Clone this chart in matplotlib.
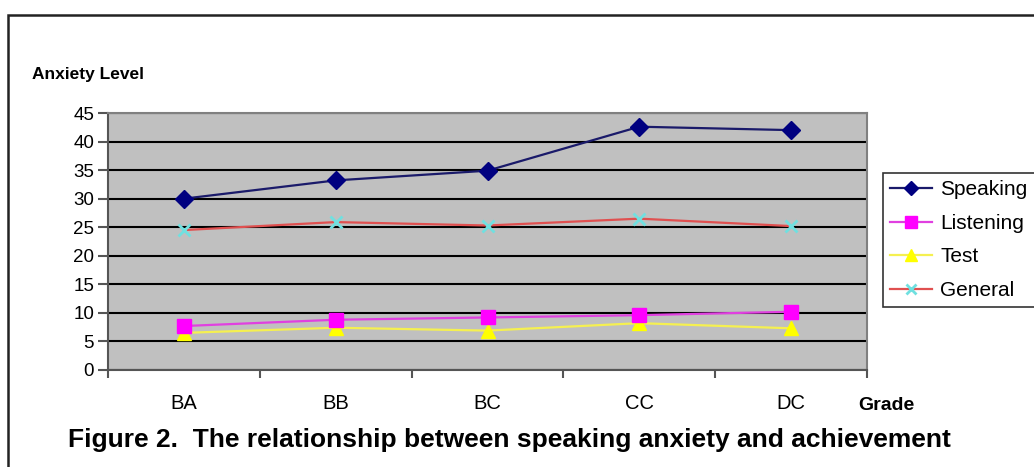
import matplotlib
matplotlib.use("Agg")
import matplotlib.pyplot as plt
from matplotlib.patches import Rectangle

grades = ["BA", "BB", "BC", "CC", "DC"]
speaking = [30.0, 33.2, 34.9, 42.6, 42.0]
listening = [7.7, 8.8, 9.2, 9.6, 10.2]
test = [6.5, 7.4, 6.9, 8.2, 7.3]
general = [24.5, 25.9, 25.3, 26.5, 25.2]
yticks = [0, 5, 10, 15, 20, 25, 30, 35, 40, 45]

plt.rcParams['font.family'] = ['Liberation Sans', 'DejaVu Sans']

W, H = 1034, 467
fig = plt.figure(figsize=(W/100, H/100), dpi=100)
fig.patch.set_facecolor('white')

# outer frame
fig.add_artist(Rectangle((8/W, -0.1), 1.2, 1 - 15/H + 0.1, transform=fig.transFigure,
                         fill=False, edgecolor='#222222', linewidth=1.8))

ax = fig.add_axes([108/W, 1 - 370/H, (867-108)/W, (370-113)/H])
ax.set_facecolor('#C0C0C0')
x = list(range(len(grades)))

ax.plot(x, general, color='#E05050', lw=1.6, marker='x', markersize=9,
        markeredgecolor='#70E0E0', markeredgewidth=2, label='General', zorder=3)
ax.plot(x, test, color='#F5F050', lw=1.6, marker='^', markersize=10,
        markerfacecolor='#FFFF00', markeredgecolor='#FFFF00', label='Test', zorder=4)
ax.plot(x, listening, color='#E040E0', lw=1.6, marker='s', markersize=10,
        markerfacecolor='#FF00FF', markeredgecolor='#FF00FF', label='Listening', zorder=5)
ax.plot(x, speaking, color='#1A1A6A', lw=1.6, marker='D', markersize=9,
        markerfacecolor='#000080', markeredgecolor='#000080', label='Speaking', zorder=6)

ax.set_xlim(-0.5, len(grades) - 0.5)
ax.set_ylim(0, 45)
ax.set_yticks(yticks)
ax.yaxis.grid(True, color='black', linewidth=1.5)
ax.set_axisbelow(True)
ax.set_xticks([i - 0.5 for i in range(len(grades) + 1)])
ax.set_xticklabels([])
ax.set_xticks(x, minor=True)
ax.set_xticklabels(grades, minor=True, fontsize=14.5)
ax.tick_params(axis='x', which='minor', length=0, pad=17)
ax.tick_params(axis='x', which='major', length=6, width=1.5, color='#555555', direction='out')
ax.tick_params(axis='y', length=7, width=1.5, color='#555555', labelsize=13.5, pad=3)
for s in ax.spines.values():
    s.set_color('#808080')
    s.set_linewidth(1.5)
ax.spines['left'].set_color('#555555')
ax.spines['bottom'].set_color('#555555')

fig.text(32/W, 1 - 75/H, 'Anxiety Level', fontsize=12.5, fontweight='bold', va='center', ha='left')
fig.text(858/W, 1 - 405/H, 'Grade', fontsize=14, fontweight='bold', va='center', ha='left')
fig.text(68/W, 1 - 440/H, 'Figure 2.  The relationship between speaking anxiety and achievement',
         fontsize=19, fontweight='bold', va='center', ha='left')

handles, labels = ax.get_legend_handles_labels()
order = [3, 2, 1, 0]
leg = fig.legend([handles[i] for i in order], [labels[i] for i in order],
                 loc='upper left', bbox_to_anchor=(883/W, 1 - 173/H),
                 bbox_transform=fig.transFigure, fontsize=15, frameon=True,
                 fancybox=False, edgecolor='black', handlelength=2.0,
                 handletextpad=0.4, borderpad=0.35, labelspacing=0.7,
                 borderaxespad=0, markerscale=0.8)
leg.get_frame().set_linewidth(1.2)

fig.savefig('out.png', dpi=100)
